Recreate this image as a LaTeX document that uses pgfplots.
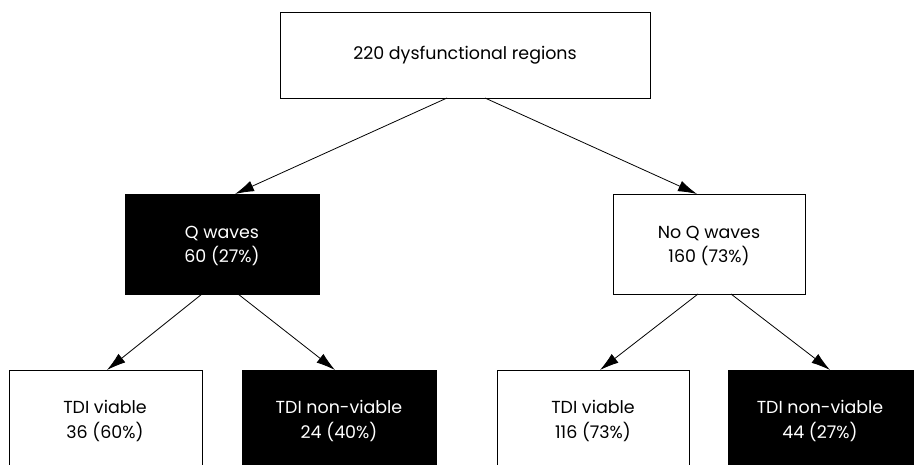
\documentclass[border=0pt]{standalone}
\usepackage{pgfplots}
\pgfplotsset{compat=1.18}
\usepackage{fontspec}
\setmainfont{Poppins}
\usetikzlibrary{arrows.meta}

\tikzset{lbl/.style={font=\fontsize{17.5}{24.5}\selectfont, align=center, inner sep=0pt}}

\begin{document}
\begin{tikzpicture}
\useasboundingbox (0,0) rectangle (914bp,465bp);
\clip (0,0) rectangle (914bp,465bp);
\begin{axis}[at={(0,0)}, anchor=south west,
  width=914bp, height=465bp, scale only axis,
  xmin=0, xmax=914, ymin=0, ymax=465, y dir=reverse,
  hide axis, clip=false,
  ]
  % boxes (pixel coordinates, y down)
  \addplot[draw=black, line width=1pt, fill=white] coordinates {(280,12)(650,12)(650,98)(280,98)} --cycle;
  \addplot[draw=black, line width=1pt, fill=black] coordinates {(125,194)(319,194)(319,294)(125,294)} --cycle;
  \addplot[draw=black, line width=1pt, fill=white] coordinates {(613,194)(805,194)(805,294)(613,294)} --cycle;
  \addplot[draw=black, line width=1pt, fill=white] coordinates {(9,370)(202,370)(202,490)(9,490)} --cycle;
  \addplot[draw=black, line width=1pt, fill=black] coordinates {(242,370)(436,370)(436,490)(242,490)} --cycle;
  \addplot[draw=black, line width=1pt, fill=white] coordinates {(497,370)(689,370)(689,490)(497,490)} --cycle;
  \addplot[draw=black, line width=1pt, fill=black] coordinates {(728,370)(913,370)(913,490)(728,490)} --cycle;
  % arrows
  \pgfplotsset{every axis plot/.append style={line width=0.8pt, -{Latex[length=19bp,width=11bp]}}}
  \addplot[black] coordinates {(447,98)(235,194)};
  \addplot[black] coordinates {(485,98)(697,194)};
  \addplot[black] coordinates {(202,294)(107,370)};
  \addplot[black] coordinates {(238,294)(335,370)};
  \addplot[black] coordinates {(698,294)(600,370)};
  \addplot[black] coordinates {(731,294)(830,370)};
  % labels
  \node[lbl] at (axis cs:465,55) {220 dysfunctional regions};
  \node[lbl, white] at (axis cs:222,246) {Q waves\\60 (27\%)};
  \node[lbl] at (axis cs:709,246) {No Q waves\\160 (73\%)};
  \node[lbl] at (axis cs:105,421) {TDI viable\\36 (60\%)};
  \node[lbl, white] at (axis cs:339,421) {TDI non-viable\\24 (40\%)};
  \node[lbl] at (axis cs:593,421) {TDI viable\\116 (73\%)};
  \node[lbl, white] at (axis cs:820,421) {TDI non-viable\\44 (27\%)};
\end{axis}
\end{tikzpicture}
\end{document}
